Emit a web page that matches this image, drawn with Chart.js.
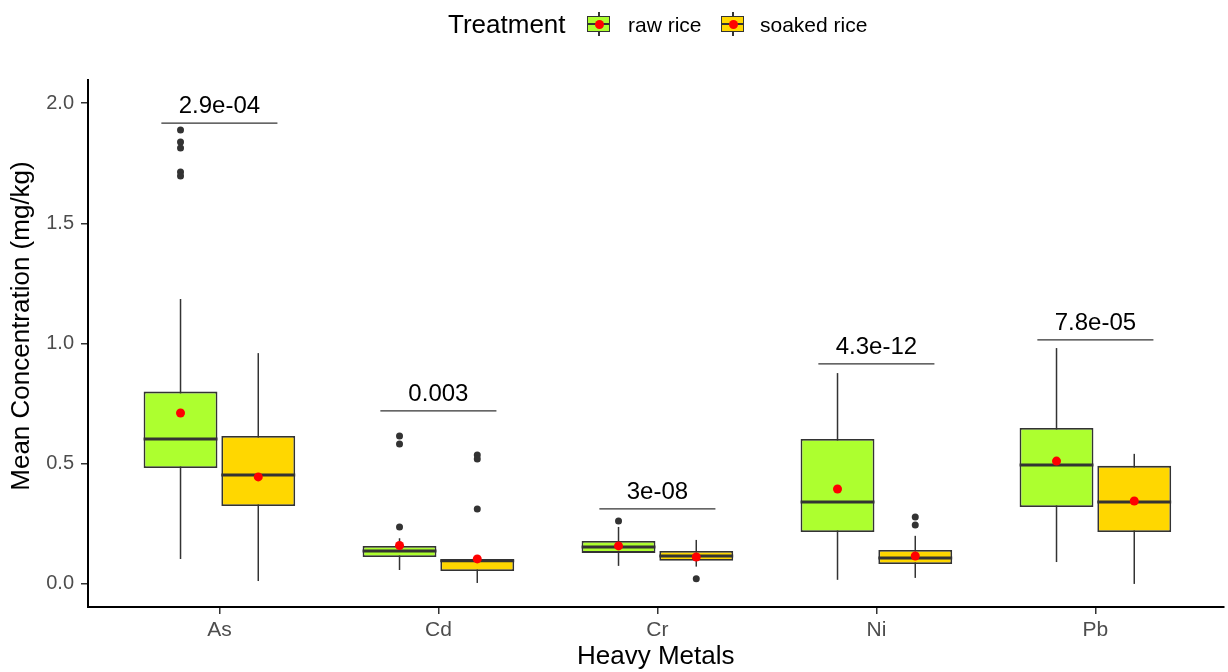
<!DOCTYPE html>
<html lang="en-US">

<head>
    <meta charset="UTF-8">
    <title>heavy metals boxplot</title>
    <style>
        body { margin: 0; background: #fff; font-family: "Liberation Sans", Arial, Helvetica, sans-serif; }
        #wrap { position: relative; width: 1228px; height: 672px; }
        #legend { position: absolute; left: 0; top: 0; width: 1228px; height: 50px; }
        #legend span { position: absolute; white-space: nowrap; line-height: 1; }
        .ltitle { font-size: 26px; color: #000; top: 11px; }
        .llabel { font-size: 21px; color: #000; top: 14px; }
        .key { width: 24px; height: 24px; top: 12px; }
        .key i { position: absolute; display: block; }
        .key .wh { left: 11px; top: 0; width: 1.5px; height: 24px; background: #333; }
        .key .bx { left: 0; top: 3.5px; width: 21px; height: 14px; border: 1.6px solid #333; }
        .key .md { left: 1px; top: 11px; width: 22px; height: 2px; background: #333; }
        .key .dot { left: 7.5px; top: 7.5px; width: 9px; height: 9px; border-radius: 50%; background: #ff0000; }
    </style>
</head>

<body>
    <div id="wrap">
        <canvas id="metalchart"></canvas>
        <div id="legend">
            <span class="ltitle" style="left:448px">Treatment</span>
            <span class="key" style="left:587px"><i class="wh"></i><i class="bx" style="background:#adff2f"></i><i class="md"></i><i class="dot"></i></span>
            <span class="llabel" style="left:628px">raw rice</span>
            <span class="key" style="left:721px"><i class="wh"></i><i class="bx" style="background:#ffd700"></i><i class="md"></i><i class="dot"></i></span>
            <span class="llabel" style="left:760px">soaked rice</span>
        </div>
    </div>
    <script src="https://cdn.jsdelivr.net/npm/chart.js"></script>
    <script>
        // categories
        const metals = ['As', 'Cd', 'Cr', 'Ni', 'Pb']
        const treatments = ['raw rice', 'soaked rice']
        const yTicks = [0, 0.5, 1.0, 1.5, 2.0]

        // box stats per metal: [lower whisker, q1, median, q3, upper whisker]
        const rawStats = [
            [0.104, 0.482, 0.603, 0.800, 1.185],
            [0.058, 0.112, 0.137, 0.158, 0.190],
            [0.075, 0.129, 0.154, 0.179, 0.237],
            [0.017, 0.216, 0.341, 0.603, 0.877],
            [0.091, 0.320, 0.495, 0.649, 0.981]
        ]
        const soakedStats = [
            [0.012, 0.324, 0.453, 0.615, 0.960],
            [0.004, 0.054, 0.096, 0.104, 0.120],
            [0.072, 0.096, 0.116, 0.137, 0.183],
            [0.025, 0.083, 0.108, 0.141, 0.200],
            [0.000, 0.216, 0.341, 0.491, 0.541]
        ]
        const rawMeans = [0.711, 0.160, 0.158, 0.395, 0.511]
        const soakedMeans = [0.445, 0.104, 0.112, 0.116, 0.345]
        const rawOutliers = [
            [1.888, 1.838, 1.813, 1.713, 1.697],
            [0.615, 0.582, 0.237],
            [0.262],
            [],
            []
        ]
        const soakedOutliers = [
            [],
            [0.536, 0.520, 0.312],
            [0.021],
            [0.278, 0.245],
            []
        ]
        // significance labels and the height of their brackets
        const pLabels = ['2.9e-04', '0.003', '3e-08', '4.3e-12', '7.8e-05']
        const pHeights = [1.917, 0.720, 0.312, 0.915, 1.015]

        const FONT = '"Liberation Sans", Arial, Helvetica, sans-serif'
        const catPct = 0.71
        const dodge = catPct / 4 // offset of each box from the category centre

        function boxData(stats) {
            return stats.map((s, i) => ({ x: i + 1, y: [s[1], s[3]] }))
        }
        function pointData(lists, side) {
            const pts = []
            lists.forEach((vals, i) => vals.forEach(v => pts.push({ x: i + 1 + side * dodge, y: v })))
            return pts
        }
        function meanData(means, side) {
            return means.map((v, i) => ({ x: i + 1 + side * dodge, y: v }))
        }

        const allStats = [rawStats, soakedStats]

        const boxPlugin = {
            id: 'boxextras',
            beforeDatasetsDraw(chart) {
                // whiskers go behind the boxes
                const ctx = chart.ctx
                const y = chart.scales.y
                ctx.save()
                ctx.strokeStyle = '#333333'
                ctx.lineWidth = 1.5
                for (let d = 0; d < 2; d++) {
                    const meta = chart.getDatasetMeta(d)
                    meta.data.forEach((el, i) => {
                        const s = allStats[d][i]
                        ctx.beginPath()
                        ctx.moveTo(el.x, y.getPixelForValue(s[0]))
                        ctx.lineTo(el.x, y.getPixelForValue(s[4]))
                        ctx.stroke()
                    })
                }
                ctx.restore()
            },
            afterDatasetDraw(chart, args) {
                if (args.index > 1) return
                // median line on top of each box
                const ctx = chart.ctx
                const y = chart.scales.y
                ctx.save()
                ctx.strokeStyle = '#333333'
                ctx.lineWidth = 3
                args.meta.data.forEach((el, i) => {
                    const py = y.getPixelForValue(allStats[args.index][i][2])
                    ctx.beginPath()
                    ctx.moveTo(el.x - el.width / 2, py)
                    ctx.lineTo(el.x + el.width / 2, py)
                    ctx.stroke()
                })
                ctx.restore()
            },
            afterDatasetsDraw(chart) {
                const ctx = chart.ctx
                const x = chart.scales.x
                const y = chart.scales.y
                ctx.save()
                ctx.strokeStyle = '#333333'
                ctx.lineWidth = 1.3
                ctx.fillStyle = '#000'
                ctx.font = '24px ' + FONT
                ctx.textAlign = 'center'
                ctx.textBaseline = 'alphabetic'
                pLabels.forEach((lab, i) => {
                    const py = y.getPixelForValue(pHeights[i])
                    const x1 = x.getPixelForValue(i + 1 - 0.265)
                    const x2 = x.getPixelForValue(i + 1 + 0.265)
                    ctx.beginPath()
                    ctx.moveTo(x1, py)
                    ctx.lineTo(x2, py)
                    ctx.stroke()
                    ctx.fillText(lab, x.getPixelForValue(i + 1), py - 10)
                })
                // y axis title
                ctx.translate(22, 326)
                ctx.rotate(-Math.PI / 2)
                ctx.font = '26px ' + FONT
                ctx.textBaseline = 'middle'
                ctx.fillText('Mean Concentration (mg/kg)', 0, 0)
                ctx.restore()
            }
        }

        const ctx = document.getElementById('metalchart').getContext('2d')
        const MetalChart = new Chart(ctx, {
            type: 'bar',
            data: {
                datasets: [
                    {
                        label: treatments[0],
                        data: boxData(rawStats),
                        backgroundColor: '#adff2f',
                        borderColor: '#333333',
                        borderWidth: 1.8,
                        borderSkipped: false,
                        categoryPercentage: catPct,
                        barPercentage: 0.95,
                        order: 2
                    },
                    {
                        label: treatments[1],
                        data: boxData(soakedStats),
                        backgroundColor: '#ffd700',
                        borderColor: '#333333',
                        borderWidth: 1.8,
                        borderSkipped: false,
                        categoryPercentage: catPct,
                        barPercentage: 0.95,
                        order: 2
                    },
                    {
                        type: 'scatter',
                        label: 'raw outliers',
                        data: pointData(rawOutliers, -1),
                        pointRadius: 3.5,
                        backgroundColor: '#333333',
                        borderWidth: 0,
                        order: 1
                    },
                    {
                        type: 'scatter',
                        label: 'soaked outliers',
                        data: pointData(soakedOutliers, 1),
                        pointRadius: 3.5,
                        backgroundColor: '#333333',
                        borderWidth: 0,
                        order: 1
                    },
                    {
                        type: 'scatter',
                        label: 'raw mean',
                        data: meanData(rawMeans, -1),
                        pointRadius: 4.5,
                        backgroundColor: '#ff0000',
                        borderWidth: 0,
                        order: 0
                    },
                    {
                        type: 'scatter',
                        label: 'soaked mean',
                        data: meanData(soakedMeans, 1),
                        pointRadius: 4.5,
                        backgroundColor: '#ff0000',
                        borderWidth: 0,
                        order: 0
                    }
                ]
            },
            options: {
                responsive: true,
                maintainAspectRatio: false,
                animation: false,
                layout: { padding: { top: 80, right: 0, bottom: 0, left: 0 } },
                plugins: {
                    legend: { display: false },
                    tooltip: { enabled: false }
                },
                scales: {
                    x: {
                        type: 'linear',
                        offset: false,
                        min: 0.4,
                        max: 5.585,
                        afterBuildTicks: scale => { scale.ticks = metals.map((m, i) => ({ value: i + 1 })) },
                        afterFit: scale => { scale.height = 65 },
                        grid: { offset: false, drawOnChartArea: false, drawTicks: true, tickLength: 7, color: '#333333', lineWidth: 1.5 },
                        border: { display: true, color: '#000', width: 2 },
                        ticks: {
                            padding: 4,
                            color: '#4d4d4d',
                            font: { family: FONT, size: 21 },
                            callback: v => metals[Math.round(v) - 1]
                        },
                        title: {
                            display: true,
                            text: 'Heavy Metals',
                            color: '#000',
                            font: { family: FONT, size: 26 },
                            padding: { top: 0, bottom: 0 }
                        }
                    },
                    y: {
                        min: -0.096,
                        max: 2.096,
                        afterBuildTicks: scale => { scale.ticks = yTicks.map(v => ({ value: v })) },
                        afterFit: scale => { scale.width = 88 },
                        grid: { drawOnChartArea: false, drawTicks: true, tickLength: 7, color: '#333333', lineWidth: 1.5 },
                        border: { display: true, color: '#000', width: 2 },
                        ticks: {
                            padding: 7,
                            color: '#4d4d4d',
                            font: { family: FONT, size: 20 },
                            callback: v => v.toFixed(1)
                        }
                    }
                }
            },
            plugins: [boxPlugin]
        })
    </script>
</body>

</html>
